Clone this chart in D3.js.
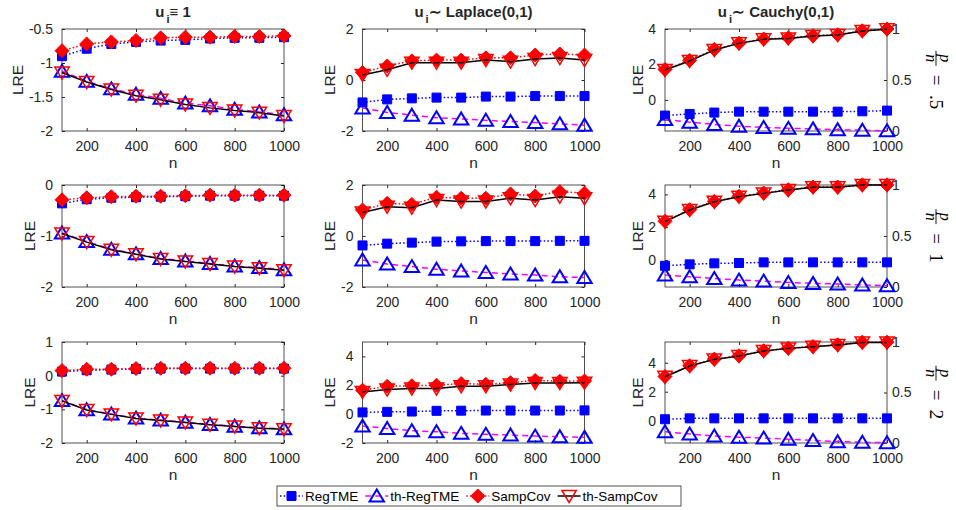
<!DOCTYPE html>
<html><head><meta charset="utf-8">
<script src="https://cdn.jsdelivr.net/npm/d3@7"></script>
<style>body{margin:0;background:#fff}</style>
</head><body><svg id="chart" width="956" height="510"></svg>
<script>
// ---------- DATA ----------
const nValues = [100,200,300,400,500,600,700,800,900,1000];
const xTicks = [200,400,600,800,1000];
const colTitles = ["\u2261 1", "\u223C Laplace(0,1)", "\u223C Cauchy(0,1)"];
const rowLabels = [".5", "1", "2"];
const seriesNames = ["RegTME","th-RegTME","SampCov","th-SampCov"];
const yDomains = [
  [-2,-0.5],[-2,2],[-1.75,4],
  [-2,0],[-2,2],[-1.64,4.57],
  [-2,1],[-2,5],[-1.54,5.43]
];
const yTicks = [
  [-2,-1.5,-1,-0.5],[-2,0,2],[0,2,4],
  [-2,-1,0],[-2,0,2],[0,2,4],
  [-2,-1,0,1],[-2,0,2,4],[0,2,4]
];
const rightTicks = [0,0.5,1];

const regTME = [
  [-0.9,-0.79,-0.72,-0.69,-0.67,-0.66,-0.64,-0.63,-0.63,-0.62],
  [-0.88,-0.76,-0.72,-0.69,-0.69,-0.65,-0.65,-0.63,-0.63,-0.63],
  [-0.88,-0.79,-0.71,-0.66,-0.66,-0.66,-0.66,-0.66,-0.64,-0.6],
  [-0.36,-0.28,-0.25,-0.24,-0.23,-0.22,-0.21,-0.21,-0.21,-0.21],
  [-0.37,-0.3,-0.26,-0.22,-0.21,-0.2,-0.2,-0.2,-0.19,-0.19],
  [-0.35,-0.26,-0.2,-0.18,-0.14,-0.14,-0.14,-0.14,-0.14,-0.14],
  [0.12,0.16,0.18,0.2,0.21,0.21,0.21,0.21,0.21,0.21],
  [0.12,0.16,0.18,0.23,0.24,0.25,0.25,0.25,0.25,0.26],
  [0.1,0.16,0.16,0.16,0.16,0.16,0.16,0.16,0.16,0.16]
];
const thRegTME = [
  [-1.12,-1.27,-1.38,-1.46,-1.52,-1.59,-1.63,-1.68,-1.72,-1.76],
  [-1.1,-1.27,-1.38,-1.48,-1.53,-1.58,-1.63,-1.67,-1.72,-1.77],
  [-1.1,-1.25,-1.38,-1.48,-1.55,-1.6,-1.63,-1.68,-1.71,-1.74],
  [-0.94,-1.11,-1.26,-1.35,-1.44,-1.49,-1.54,-1.59,-1.62,-1.66],
  [-0.94,-1.1,-1.2,-1.3,-1.37,-1.43,-1.49,-1.53,-1.6,-1.63],
  [-0.91,-1.02,-1.12,-1.22,-1.28,-1.36,-1.42,-1.46,-1.52,-1.56],
  [-0.74,-1.01,-1.14,-1.26,-1.32,-1.38,-1.45,-1.5,-1.55,-1.58],
  [-0.83,-0.99,-1.15,-1.22,-1.33,-1.4,-1.45,-1.52,-1.56,-1.61],
  [-0.76,-0.92,-1.06,-1.14,-1.2,-1.28,-1.36,-1.45,-1.49,-1.52]
];
const sampCov = [
  [-0.82,-0.72,-0.69,-0.67,-0.63,-0.62,-0.62,-0.61,-0.61,-0.6],
  [0.29,0.55,0.75,0.78,0.78,0.87,0.87,0.98,1.02,0.98],
  [1.72,2.23,2.85,3.2,3.44,3.5,3.62,3.68,3.9,4.0],
  [-0.29,-0.25,-0.23,-0.22,-0.22,-0.21,-0.2,-0.2,-0.2,-0.2],
  [1.02,1.28,1.24,1.52,1.48,1.48,1.65,1.57,1.74,1.68],
  [2.36,3.07,3.57,3.88,4.08,4.28,4.45,4.45,4.58,4.58],
  [0.15,0.19,0.19,0.21,0.22,0.22,0.22,0.22,0.22,0.22],
  [1.66,1.93,1.97,2.0,2.12,2.07,2.18,2.34,2.28,2.3],
  [3.05,3.79,4.25,4.48,4.83,5.0,5.12,5.24,5.42,5.42]
];
const thSampCov = [
  [-1.14,-1.28,-1.39,-1.48,-1.54,-1.61,-1.66,-1.7,-1.73,-1.78],
  [0.2,0.4,0.68,0.68,0.68,0.78,0.72,0.82,0.86,0.78],
  [1.69,2.2,2.82,3.19,3.42,3.47,3.6,3.66,3.89,3.98],
  [-0.95,-1.12,-1.27,-1.36,-1.45,-1.5,-1.55,-1.6,-1.63,-1.67],
  [0.92,1.15,1.11,1.41,1.35,1.35,1.48,1.41,1.54,1.48],
  [2.34,3.05,3.55,3.86,4.06,4.26,4.43,4.43,4.57,4.57],
  [-0.75,-1.02,-1.15,-1.27,-1.33,-1.39,-1.46,-1.51,-1.56,-1.59],
  [1.54,1.7,1.77,1.77,1.93,1.93,2.05,2.16,2.16,2.18],
  [3.03,3.77,4.23,4.46,4.81,4.99,5.1,5.22,5.4,5.4]
];

// ---------- LAYOUT / STYLE ----------
const svg = d3.select("#chart");
const FONT = "'Liberation Sans', Arial, Helvetica, sans-serif";
const SERIF = "'Liberation Serif', 'DejaVu Serif', serif";
const AX = "#262626";
const TICKFS = 14;
const colLeft = [62, 362.5, 665], colW = 222;
const rowTop = [29, 185, 342], rowH = [102, 102, 101];

const markerPaths = {
  square: "M-4.5,-4.5H4.5V4.5H-4.5Z",
  diamond: "M0,-7L7,0L0,7L-7,0Z",
  up: "M0,-6.5L7.2,5.5L-7.2,5.5Z",
  down: "M0,6.5L7.2,-5.5L-7.2,-5.5Z"
};
const styles = [
  {data: regTME, line: "#0000ff", dash: "1.5,2.2", lw: 1.5, marker: "square", mfill: "#0000ff", mstroke: "#0000ff", msw: 1},
  {data: thRegTME, line: "#ff00ff", dash: "6,4", lw: 1.5, marker: "up", mfill: "none", mstroke: "#0000ff", msw: 2},
  {data: sampCov, line: "#ff0000", dash: "1.5,2.2", lw: 1.5, marker: "diamond", mfill: "#ff0000", mstroke: "#ff0000", msw: 1},
  {data: thSampCov, line: "#000000", dash: null, lw: 1.5, marker: "down", mfill: "none", mstroke: "#ff0000", msw: 1.5}
];

for (let r = 0; r < 3; r++) {
  for (let c = 0; c < 3; c++) {
    const p = r * 3 + c;
    const L = colLeft[c], T = rowTop[r], W = colW, H = rowH[r];
    const x = d3.scaleLinear().domain([100, 1000]).range([L, L + W]);
    const y = d3.scaleLinear().domain(yDomains[p]).range([T + H, T]);
    const g = svg.append("g");

    g.append("rect").attr("x", L).attr("y", T).attr("width", W).attr("height", H)
      .attr("fill", "none").attr("stroke", AX).attr("stroke-width", 0.8);

    const xa = g.append("g").attr("transform", `translate(0,${T + H})`)
      .call(d3.axisBottom(x).tickValues(xTicks).tickSize(-3).tickPadding(7).tickFormat(d => String(d)));
    xa.select(".domain").remove();
    xa.selectAll("line").attr("stroke", AX);
    xa.selectAll("text").attr("font-family", FONT).attr("font-size", TICKFS).attr("fill", AX).attr("dy", "0.95em");
    const xt = g.append("g").attr("transform", `translate(0,${T})`)
      .call(d3.axisTop(x).tickValues(xTicks).tickSize(-3).tickFormat(""));
    xt.select(".domain").remove();
    xt.selectAll("line").attr("stroke", AX);

    const ya = g.append("g").attr("transform", `translate(${L},0)`)
      .call(d3.axisLeft(y).tickValues(yTicks[p]).tickSize(-3).tickPadding(9).tickFormat(d => String(d)));
    ya.select(".domain").remove();
    ya.selectAll("line").attr("stroke", AX);
    ya.selectAll("text").attr("font-family", FONT).attr("font-size", TICKFS).attr("fill", AX);
    let maxW = 0;
    ya.selectAll("text").each(function () { maxW = Math.max(maxW, this.getComputedTextLength()); });

    if (c < 2) {
      const yr = g.append("g").attr("transform", `translate(${L + W},0)`)
        .call(d3.axisRight(y).tickValues(yTicks[p]).tickSize(-3).tickFormat(""));
      yr.select(".domain").remove();
      yr.selectAll("line").attr("stroke", AX);
    } else {
      const y2 = d3.scaleLinear().domain([0, 1]).range([T + H, T]);
      const yr = g.append("g").attr("transform", `translate(${L + W},0)`)
        .call(d3.axisRight(y2).tickValues(rightTicks).tickSize(-3).tickPadding(5).tickFormat(d => String(d)));
      yr.select(".domain").remove();
      yr.selectAll("line").attr("stroke", AX);
      yr.selectAll("text").attr("font-family", FONT).attr("font-size", TICKFS).attr("fill", AX);
    }

    g.append("text").attr("transform", `translate(${L - 9 - maxW - 11},${T + H / 2}) rotate(-90)`)
      .attr("text-anchor", "middle").attr("dy", "0.35em")
      .attr("font-family", FONT).attr("font-size", 15.5).attr("fill", AX).text("LRE");
    g.append("text").attr("x", L + W / 2).attr("y", T + H + 37)
      .attr("text-anchor", "middle").attr("font-family", FONT).attr("font-size", 15.5).attr("fill", AX).text("n");

    styles.forEach(s => {
      const vals = s.data[p];
      const pts = nValues.map((n, i) => [x(n), y(vals[i])]);
      g.append("path").attr("d", d3.line()(pts)).attr("fill", "none")
        .attr("stroke", s.line).attr("stroke-width", s.lw)
        .attr("stroke-dasharray", s.dash);
      g.selectAll(null).data(pts).enter().append("path")
        .attr("transform", d => `translate(${d[0]},${d[1]})`)
        .attr("d", markerPaths[s.marker])
        .attr("fill", s.mfill).attr("stroke", s.mstroke).attr("stroke-width", s.msw);
    });

    if (r === 0) {
      const t = svg.append("text").attr("x", L + W / 2).attr("y", 17).attr("text-anchor", "middle")
        .attr("font-family", FONT).attr("font-size", 15).attr("font-weight", "bold").attr("fill", AX);
      t.append("tspan").text("u");
      t.append("tspan").attr("font-size", 11).attr("dx", 2).attr("dy", 6).text("i");
      t.append("tspan").attr("dy", -6).text(colTitles[c]);
    }

    if (c === 2) {
      const cy = T + H / 2;
      const outer = svg.append("g").attr("transform", `translate(936,${cy}) rotate(90)`);
      const lg = outer.append("g");
      lg.append("text").attr("x", 7.5).attr("y", -4).attr("text-anchor", "middle")
        .attr("font-family", SERIF).attr("font-style", "italic").attr("font-size", 16).attr("fill", "#000").text("p");
      lg.append("line").attr("x1", 0).attr("x2", 15).attr("y1", 0).attr("y2", 0)
        .attr("stroke", "#000").attr("stroke-width", 0.9);
      lg.append("text").attr("x", 7.5).attr("y", 10.5).attr("text-anchor", "middle")
        .attr("font-family", SERIF).attr("font-style", "italic").attr("font-size", 16).attr("fill", "#000").text("n");
      lg.append("text").attr("x", 24).attr("y", 6.5)
        .attr("font-family", SERIF).attr("font-size", 19).attr("fill", "#000")
        .attr("xml:space", "preserve")
        .text("=  " + rowLabels[r]);
      const bb = lg.node().getBBox();
      lg.attr("transform", `translate(${-(bb.x + bb.width / 2)},0)`);
    }
  }
}

// ---------- LEGEND ----------
const leg = svg.append("g");
leg.append("rect").attr("x", 277).attr("y", 486).attr("width", 404).attr("height", 20)
  .attr("fill", "#fff").attr("stroke", AX).attr("stroke-width", 0.8);
let lx = 280;
const ly = 496;
styles.forEach((s, i) => {
  leg.append("line").attr("x1", lx).attr("x2", lx + 23).attr("y1", ly).attr("y2", ly)
    .attr("stroke", s.line).attr("stroke-width", s.lw).attr("stroke-dasharray", s.dash);
  leg.append("path").attr("transform", `translate(${lx + 11.5},${ly})`).attr("d", markerPaths[s.marker])
    .attr("fill", s.mfill).attr("stroke", s.mstroke).attr("stroke-width", s.msw);
  const t = leg.append("text").attr("x", lx + 25).attr("y", ly).attr("dy", "0.35em")
    .attr("font-family", FONT).attr("font-size", 13.5).attr("fill", "#000").text(seriesNames[i]);
  lx += 25 + t.node().getComputedTextLength() + 7;
});
</script></body></html>
